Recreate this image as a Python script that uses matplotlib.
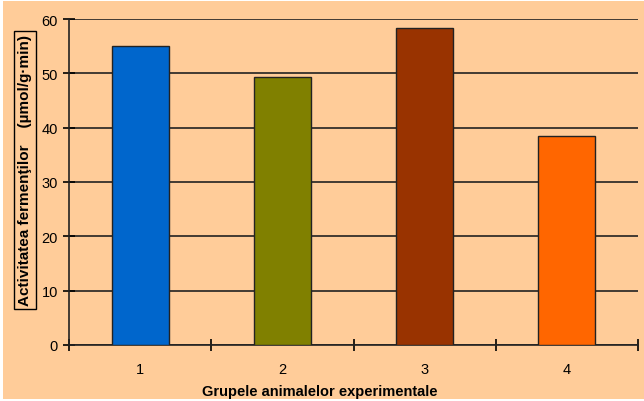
import matplotlib
matplotlib.use('Agg')
import matplotlib.pyplot as plt
from matplotlib.patches import Rectangle

# data
groups = ['1', '2', '3', '4']
activity = [55.0, 49.3, 58.4, 38.5]
colors = ['#0066CC', '#808000', '#993300', '#FF6600']
bg = '#FFCC99'

plt.rcParams['font.family'] = ['Liberation Sans', 'DejaVu Sans']

fig = plt.figure(figsize=(6.44, 4.02), dpi=100, facecolor='white')
# orange panel with thin white margin on left/top/bottom
fig.patches.append(Rectangle((3 / 644, 2 / 402), 1 - 3 / 644, 1 - 4 / 402,
                             transform=fig.transFigure, facecolor=bg,
                             edgecolor='none', zorder=-1))
ax = fig.add_axes([69 / 644, 1 - 346 / 402, (638 - 69) / 644, 326 / 402])
ax.set_facecolor(bg)

x = range(len(groups))
ax.bar(x, activity, width=0.4, color=colors, edgecolor='#222222',
       linewidth=1.0, zorder=3)

ax.set_ylim(0, 60)
ax.set_xlim(-0.5, 3.5)
ax.set_yticks(range(0, 61, 10))
ax.grid(axis='y', color='#222222', linewidth=1.2, zorder=1)
ax.set_axisbelow(True)

ax.set_xticks(list(x))
ax.set_xticklabels(groups)
ax.tick_params(axis='x', length=0, pad=12, labelsize=10.5)
ax.set_xticks([-0.5, 0.5, 1.5, 2.5, 3.5], minor=True)
ax.tick_params(axis='x', which='minor', direction='inout', length=8, width=1.2)
ax.tick_params(axis='y', direction='inout', length=8, width=1.2,
               labelsize=10.5, pad=4)

for s in ['top', 'right']:
    ax.spines[s].set_visible(False)
for s in ['left', 'bottom']:
    ax.spines[s].set_linewidth(1.2)
    ax.spines[s].set_color('#222222')

ax.set_xlabel('Grupele animalelor experimentale', fontsize=10.5,
              fontweight='bold', labelpad=8)
ax.xaxis.set_label_coords((320 - 69) / 569, -0.12)
fig.text(25 / 644, 1 - 171 / 402, 'Activitatea fermenţilor    (µmol/g·min)',
         rotation=90, ha='center', va='center', fontsize=11,
         fontweight='bold',
         bbox=dict(boxstyle='square,pad=0.25', facecolor='none',
                   edgecolor='black', linewidth=1))

fig.savefig('out.png', dpi=100, facecolor='white')
